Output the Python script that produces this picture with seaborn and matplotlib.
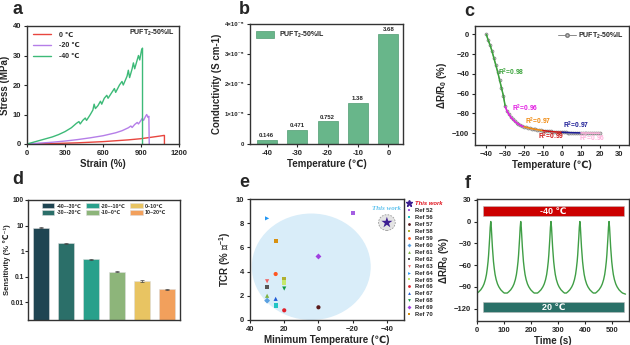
import numpy as np
import pandas as pd
import matplotlib
matplotlib.use('Agg')
import matplotlib.pyplot as plt
import seaborn as sns
from matplotlib.patches import Ellipse, Rectangle, Patch
from matplotlib.lines import Line2D
from matplotlib.ticker import FixedLocator, FixedFormatter, NullLocator

# ---------------- data ----------------
# (a) stress-strain curves
strain_40 = [0, 50, 100, 150, 200, 250, 300, 350, 390, 410, 420, 440, 460, 470, 500, 520, 530, 540,
             560, 580, 590, 610, 630, 640, 670, 690, 700, 730, 750, 760, 790, 800, 810, 830, 840,
             850, 870, 880, 890, 905, 912, 912]
stress_40 = [0, 0.6, 1.2, 1.8, 2.4, 3.2, 4.2, 5.5, 7.0, 7.6, 6.8, 8.0, 8.8, 8.0, 10.0, 11.5, 13.5, 12.0,
             13.0, 14.5, 13.5, 15.5, 16.5, 15.5, 17.5, 18.8, 17.5, 20.0, 21.2, 20.0, 23.0, 25.0, 22.5,
             25.5, 27.5, 25.5, 28.5, 30.0, 28.5, 32.0, 32.5, 0]
strain_20 = [0, 100, 200, 300, 400, 500, 600, 700, 750, 800, 820, 830, 850, 870, 880, 900, 910, 920,
             935, 945, 955, 962, 965]
stress_20 = [0, 0.3, 0.6, 1.0, 1.5, 2.1, 2.8, 3.8, 4.5, 5.5, 6.1, 5.6, 6.6, 7.3, 6.8, 8.0, 8.7, 8.0,
             9.3, 10.0, 9.0, 9.4, 0]
strain_0 = [0, 200, 400, 600, 800, 900, 1000, 1050, 1080, 1085, 1085]
stress_0 = [0, 0.15, 0.4, 0.8, 1.4, 1.8, 2.4, 2.7, 2.9, 2.9, 0]

# (b) conductivity
b_temps = ['-40', '-30', '-20', '-10', '0']
b_cond = [0.146e-5, 0.471e-5, 0.752e-5, 1.38e-5, 3.68e-5]
b_labels = ['0.146', '0.471', '0.752', '1.38', '3.68']

# (c) resistance change vs temperature
c_temp = list(range(-40, 21))
c_dr = [0, -6, -11, -17, -24, -31, -38, -46, -54, -62, -73,
        -78, -81, -84, -86, -88, -89.5, -91, -92, -93, -93.5,
        -94, -94.5, -95, -95.4, -95.8, -96.2, -96.5, -96.8, -97.1, -97.4,
        -97.7, -97.9, -98.1, -98.3, -98.5, -98.7, -98.8, -98.9, -99, -99.1,
        -99.2, -99.3, -99.4, -99.5, -99.5, -99.6, -99.6, -99.7, -99.7, -99.8,
        -99.8, -99.8, -99.9, -99.9, -99.9, -100, -100, -100, -100, -100]
c_seg_lo = [-40, -30, -20, -10, 0, 10]
c_seg_hi = [-30, -20, -10, 0, 10, 20]
c_seg_r2 = ['0.98', '0.96', '0.97', '0.99', '0.97', '0.96']
c_seg_col = ['#3aa33a', '#e21ee2', '#f08a10', '#cc1414', '#1c1c96', '#ffb0dc']

# (d) sensitivity
d_ranges = ['-40~-30℃', '-30~-20℃', '-20~-10℃', '-10~0℃', '0~10℃', '10~20℃']
d_sens = [8.2, 2.0, 0.47, 0.155, 0.068, 0.032]
d_err = [0.3, 0.08, 0.03, 0.008, 0.004, 0.002]
d_cols = ['#1f4552', '#2b6f69', '#28a08b', '#8db57a', '#e8c462', '#f2a05c']

# (e) comparison
e_refs = ['Ref 52', 'Ref 56', 'Ref 57', 'Ref 58', 'Ref 59', 'Ref 60', 'Ref 61', 'Ref 62',
          'Ref 63', 'Ref 64', 'Ref 65', 'Ref 66', 'Ref 67', 'Ref 68', 'Ref 69', 'Ref 70']
e_temp = [-20, 25, 0, 20, 25, 30, 30, 30, 30, 30, 20, 20, 25, 20, 0, 25]
e_tcr = [8.85, 1.2, 1.05, 3.35, 3.8, 1.6, 2.0, 2.7, 3.2, 8.4, 3.1, 0.8, 1.75, 2.6, 5.25, 6.5]
e_cols = ['#a45ee2', '#22c4c4', '#5a1a1a', '#b0b030', '#ff5722', '#5aa0e0', '#7cb342', '#555555',
          '#f06060', '#2196f3', '#c5e86c', '#e0202a', '#1e5bd6', '#119944', '#a040e0', '#d89010']
e_marks = ['s', 's', 'o', 's', 'o', 'D', '^', 's', 'v', '>', 's', 'o', '^', 'v', 'D', 's']
this_temp = [-40]
this_tcr = [8.05]

# (f) cycling
f_peak_t = [51, 162, 274, 381, 489]
f_offsets = [-50, -45, -37, -30, -25, -20, -16, -13, -10, -8, -6, -4, -2, 0,
             2, 4, 6, 8, 10, 13, 16, 20, 25, 30, 37, 45, 50]
f_profile = [-98.5, -97, -94, -90, -86, -80, -73, -65, -55, -46, -35, -22, -8, 0,
             -8, -22, -35, -46, -55, -65, -73, -80, -86, -90, -94, -97, -98.5]
f_start = [0, -100]
f_end = [550, -100]

# ---------------- style ----------------
sns.set_theme(style='ticks')
plt.rcParams['font.family'] = ['Liberation Sans', 'DejaVu Sans']
plt.rcParams.update({
    'font.weight': 'bold',
    'axes.labelweight': 'bold',
    'axes.linewidth': 1.0,
    'axes.edgecolor': '#333333',
    'xtick.labelsize': 5.5,
    'ytick.labelsize': 5.5,
    'axes.labelsize': 7,
    'xtick.major.size': 2.5,
    'ytick.major.size': 2.5,
    'xtick.major.width': 0.8,
    'ytick.major.width': 0.8,
    'xtick.major.pad': 1.5,
    'ytick.major.pad': 1.5,
    'axes.labelpad': 2,
    'mathtext.fontset': 'custom',
    'mathtext.rm': 'Liberation Sans:bold',
    'mathtext.bf': 'Liberation Sans:bold',
    'mathtext.it': 'Liberation Sans:bold:italic',
    'mathtext.default': 'bf',
    'axes.facecolor': 'white',
})

W, H = 630, 345
fig = plt.figure(figsize=(6.3, 3.45), dpi=100)


def rect(l, t, r, b):
    return [l / W, 1 - b / H, (r - l) / W, (b - t) / H]


def letter(x, y, s):
    fig.text(x / W, 1 - y / H, s, fontsize=13, fontweight='bold', va='top', ha='left')


for s, (x, y) in zip('abcdef', [(12, 1), (239, 1), (464, 3), (12, 171), (239, 174), (465, 175)]):
    letter(x, y, s)

# ---------------- (a) ----------------
axA = fig.add_axes(rect(27, 26, 179, 144))
for xs, ys, col, lab in [(strain_0, stress_0, '#e8463f', '0 ℃'),
                         (strain_20, stress_20, '#b57ee8', '-20 ℃'),
                         (strain_40, stress_40, '#3dba78', '-40 ℃')]:
    sns.lineplot(x=xs, y=ys, ax=axA, sort=False, estimator=None, color=col, lw=1.0, label=lab)
axA.set_xlim(0, 1200)
axA.set_ylim(0, 40)
axA.set_xticks([0, 300, 600, 900, 1200])
axA.set_yticks([0, 10, 20, 30, 40])
axA.set_xlabel('Strain (%)')
axA.set_ylabel('Stress (MPa)')
axA.legend(loc='upper left', frameon=False, fontsize=5, handlelength=2.6, labelspacing=0.55,
           borderaxespad=0.4, handletextpad=1.2)
axA.text(0.97, 0.94, 'PUFT$_2$-50%IL', transform=axA.transAxes, ha='right', va='center', fontsize=5)

# ---------------- (b) ----------------
axB = fig.add_axes(rect(250, 24, 403, 144))
df_b = pd.DataFrame({'temp': b_temps, 'cond': b_cond})
sns.barplot(data=df_b, x='temp', y='cond', order=b_temps, color='#68b68a', saturation=1,
            width=0.66, edgecolor='#4f9c72', linewidth=0.5, ax=axB)
for i, (v, t) in enumerate(zip(b_cond, b_labels)):
    axB.text(i, v + 0.05e-5, t, ha='center', va='bottom', fontsize=4.3)
axB.set_xlim(-0.55, 4.48)
axB.set_ylim(0, 4e-5)
axB.set_yticks([0, 1e-5, 2e-5, 3e-5, 4e-5])
axB.set_yticklabels(['0', '1×10⁻⁵', '2×10⁻⁵', '3×10⁻⁵', '4×10⁻⁵'], fontsize=4.3)
axB.set_xlabel('Temperature (℃)')
axB.set_ylabel('Conductivity (S cm-1)')
axB.legend(handles=[Patch(facecolor='#68b68a', edgecolor='#4f9c72', lw=0.5)], labels=['PUFT$_2$-50%IL'],
           loc='upper left', frameon=False, fontsize=5, handlelength=2.6, handleheight=1.2,
           borderaxespad=0.4)

# ---------------- (c) ----------------
axC = fig.add_axes(rect(475, 26, 629, 145))
sns.lineplot(x=c_temp, y=c_dr, ax=axC, color='#8a8a8a', lw=0.7, marker='o', markersize=2.2,
             markerfacecolor='#c8c8c8', markeredgecolor='#777777', markeredgewidth=0.4,
             sort=False, estimator=None)
for lo, hi, col in zip(c_seg_lo, c_seg_hi, c_seg_col):
    xs = [t for t in c_temp if lo <= t <= hi]
    ys = [d for t, d in zip(c_temp, c_dr) if lo <= t <= hi]
    sns.lineplot(x=xs, y=ys, ax=axC, color=col, lw=1.1, sort=False, estimator=None)
r2_pos = [(-27, -38), (-19.5, -75), (-12.5, -88), (-5.5, -103), (7.5, -92), (16, -105)]
for (x, y), col, r in zip(r2_pos, c_seg_col, c_seg_r2):
    axC.text(x, y, 'R$^2$=' + r, color=col, fontsize=4.8, ha='center', va='center')
axC.set_xlim(-46, 35.5)
axC.set_ylim(-112, 8.5)
axC.set_xticks([-40, -30, -20, -10, 0, 10, 20, 30])
axC.set_yticks([0, -20, -40, -60, -80, -100])
axC.set_xlabel('Temperature (℃)')
axC.set_ylabel('ΔR/R$_0$ (%)')
axC.legend(handles=[Line2D([], [], color='#8a8a8a', lw=0.7, marker='o', markersize=2.5,
                           markerfacecolor='#c8c8c8', markeredgecolor='#777777')],
           labels=['PUFT$_2$-50%IL'], loc='upper right', frameon=False, fontsize=5,
           handlelength=2.5, borderaxespad=0.3, handletextpad=0.4)

# ---------------- (d) ----------------
axD = fig.add_axes(rect(28, 200, 180, 320))
df_d = pd.DataFrame({'range': d_ranges, 'sens': d_sens})
sns.barplot(data=df_d, x='range', y='sens', order=d_ranges, hue='range', hue_order=d_ranges,
            palette=d_cols, saturation=1, width=0.62, edgecolor='#dddddd', linewidth=0.4,
            legend=False, ax=axD)
axD.errorbar(range(len(d_sens)), d_sens, yerr=d_err, fmt='none', ecolor='#444444',
             elinewidth=0.5, capsize=1.2, capthick=0.5)
axD.set_yscale('log')
axD.set_ylim(0.002, 100)
axD.set_xlim(-0.5, 5.5)
axD.yaxis.set_major_locator(FixedLocator([0.01, 0.1, 1, 10, 100]))
axD.yaxis.set_major_formatter(FixedFormatter(['0.01', '0.1', '1', '10', '100']))
axD.yaxis.set_minor_locator(NullLocator())
axD.tick_params(axis='y', labelsize=4.8, pad=1, length=2)
axD.set_xticks([])
axD.set_xlabel('')
axD.set_ylabel('Sensitivity (% ℃⁻¹)', fontsize=5.5)
axD.yaxis.set_label_coords(-0.11, 0.5)
axD.legend(handles=[Patch(facecolor=c, edgecolor='#dddddd', lw=0.4) for c in d_cols],
           labels=d_ranges, ncol=3, loc='upper center', frameon=False, fontsize=3.8,
           handlelength=2.4, handleheight=1.1, columnspacing=0.9, labelspacing=0.25,
           handletextpad=0.4, borderaxespad=0.25)

# ---------------- (e) ----------------
axE = fig.add_axes(rect(250, 199, 404, 320))
axE.add_patch(Ellipse((4.2, 4.4), 69.5, 8.8, facecolor='#d9edf9', edgecolor='none', zorder=0))
axE.add_patch(Ellipse((this_temp[0], this_tcr[0]), 9.8, 1.3, facecolor='#e4e4e4', edgecolor='#9a9a9a',
                      ls=(0, (2, 1.5)), lw=0.6, zorder=1))
df_e = pd.DataFrame({'temp': e_temp, 'tcr': e_tcr, 'ref': e_refs})
sns.scatterplot(data=df_e, x='temp', y='tcr', hue='ref', style='ref', hue_order=e_refs,
                style_order=e_refs, palette=dict(zip(e_refs, e_cols)),
                markers=dict(zip(e_refs, e_marks)), s=9, edgecolor='none', legend=False,
                ax=axE, zorder=3)
sns.scatterplot(x=this_temp, y=this_tcr, marker='*', s=70, color='#3d1f92', edgecolor='none',
                ax=axE, zorder=4)
axE.text(this_temp[0], 9.2, 'This work', color='#5ec2ee', fontsize=5, ha='center', va='center',
         fontstyle='italic', fontweight='bold', family=['Liberation Serif', 'DejaVu Serif'])
axE.set_xlim(40, -50)
axE.set_ylim(0, 10)
axE.set_xticks([40, 20, 0, -20, -40])
axE.set_yticks([0, 2, 4, 6, 8, 10])
axE.set_xlabel('Minimum Temperature (℃)')
axE.set_ylabel('TCR (% ℃$^{-1}$)')
handles = [Line2D([], [], ls='none', marker='*', color='#3d1f92', markersize=4.5)]
labels = ['This work']
for c, m, r in zip(e_cols, e_marks, e_refs):
    handles.append(Line2D([], [], ls='none', marker=m, color=c, markersize=2, markeredgewidth=0))
    labels.append(r)
legE = fig.legend(handles, labels, loc='upper left', bbox_to_anchor=(407 / W, 1 - 201 / H),
                  frameon=False, fontsize=4.2, labelspacing=0.32, handlelength=0.8,
                  handletextpad=0.5, borderpad=0, borderaxespad=0)
legE.get_texts()[0].set_color('#e0101a')
legE.get_texts()[0].set_fontstyle('italic')

# ---------------- (f) ----------------
f_t = [f_start[0]]
f_v = [f_start[1]]
for p in f_peak_t:
    for o, v in zip(f_offsets, f_profile):
        f_t.append(p + o)
        f_v.append(v)
f_t.append(f_end[0])
f_v.append(f_end[1])
axF = fig.add_axes(rect(477, 199, 629, 321))
sns.lineplot(x=f_t, y=f_v, ax=axF, sort=False, estimator=None, color='#3f9e45', lw=1.0)
axF.add_patch(Rectangle((24, 7), 520, 15, facecolor='#cc0000', edgecolor='#bbbbbb', lw=0.4, zorder=3))
axF.add_patch(Rectangle((24, -125), 520, 14, facecolor='#2a7068', edgecolor='#bbbbbb', lw=0.4, zorder=3))
axF.text(284, 14.5, '-40 ℃', color='white', fontsize=6.5, ha='center', va='center', zorder=4)
axF.text(284, -118, '20 ℃', color='white', fontsize=6.5, ha='center', va='center', zorder=4)
axF.set_xlim(0, 563)
axF.set_ylim(-137, 31)
axF.set_xticks([0, 100, 200, 300, 400, 500])
axF.set_yticks([30, 0, -30, -60, -90, -120])
axF.set_xlabel('Time (s)')
axF.set_ylabel('ΔR/R$_0$ (%)')

fig.savefig('out.png', dpi=100)
